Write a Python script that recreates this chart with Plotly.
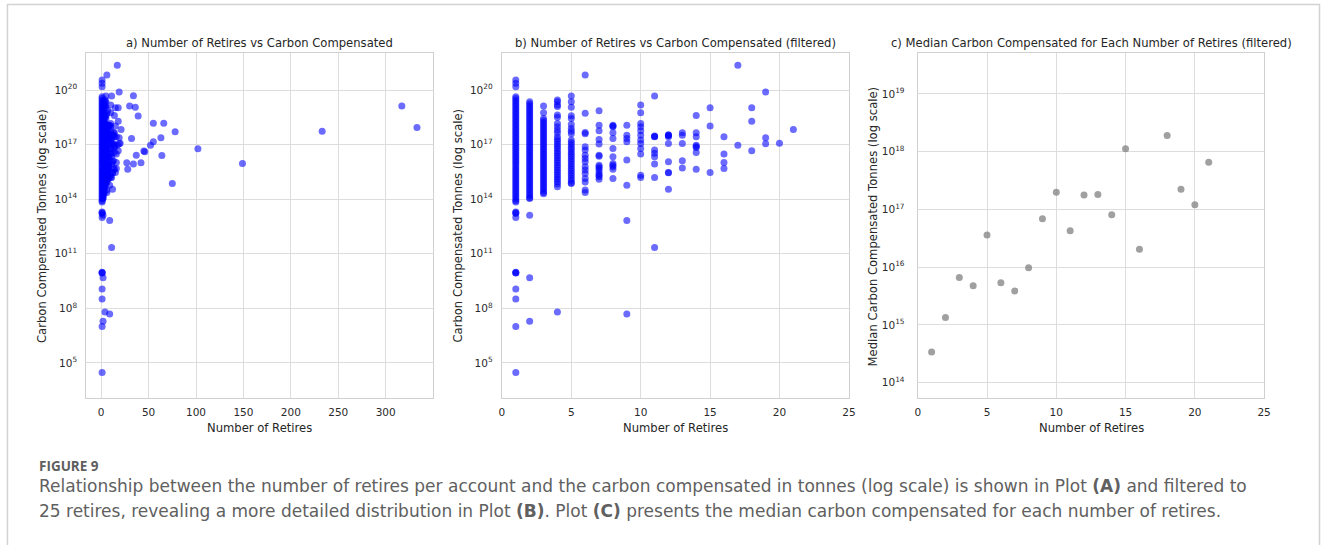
import plotly.graph_objects as go

# ---------------- data (log10 of carbon compensated tonnes) ----------------
col1 = [20.55, 20.37, 20.18, 19.63, 19.53, 19.42, 19.31, 19.20, 19.10, 18.98, 18.87, 18.76,
        18.65, 18.54, 18.43, 18.32, 18.21, 18.10, 17.99, 17.88, 17.77, 17.66, 17.55, 17.44,
        17.33, 17.22, 17.11, 17.00, 16.89, 16.78, 16.67, 16.56, 16.45, 16.34, 16.23, 16.12,
        16.01, 15.90, 15.79, 15.68, 15.57, 15.46, 15.35, 15.24, 15.13, 15.02, 14.91, 14.80,
        14.69, 14.58, 14.47, 14.36, 14.25, 14.14, 14.03, 13.92, 13.85, 13.30, 13.26, 13.22,
        13.00, 9.98, 9.96, 9.94, 9.07, 8.52, 7.00, 4.48]
col2 = [19.36, 19.25, 19.14, 19.03, 18.92, 18.81, 18.70, 18.59, 18.48, 18.37, 18.26, 18.15,
        18.04, 17.93, 17.82, 17.71, 17.60, 17.49, 17.38, 17.27, 17.16, 17.05, 16.94, 16.83,
        16.72, 16.61, 16.50, 16.39, 16.28, 16.17, 16.06, 15.95, 15.84, 15.73, 15.62, 15.51,
        15.40, 15.29, 15.18, 15.07, 14.96, 14.85, 14.74, 14.63, 14.52, 14.41, 14.30, 14.19,
        14.08, 14.04, 13.12, 9.69, 7.30]
col3 = [19.12, 18.75, 18.44, 18.33, 18.22, 18.11, 18.00, 17.89, 17.78, 17.67, 17.56, 17.45,
        17.34, 17.23, 17.12, 17.01, 16.90, 16.79, 16.68, 16.57, 16.46, 16.35, 16.24, 16.13,
        16.02, 15.91, 15.80, 15.69, 15.58, 15.47, 15.36, 15.25, 15.14, 15.03, 14.92, 14.81,
        14.70, 14.59, 14.48, 14.37, 14.30]
col4 = [19.45, 19.35, 19.17, 19.10, 18.62, 18.50, 18.16, 17.98, 17.80, 17.65, 17.43, 17.30,
        17.17, 17.04, 16.91, 16.78, 16.65, 16.52, 16.39, 16.26, 16.13, 16.00, 15.87, 15.74,
        15.61, 15.48, 15.35, 15.22, 15.09, 14.96, 14.83, 14.68, 7.80]
col5 = [19.67, 19.36, 19.05, 18.59, 18.44, 18.11, 17.88, 17.74, 17.60, 17.25, 17.12, 16.99,
        16.86, 16.73, 16.60, 16.47, 16.34, 16.21, 16.08, 15.95, 15.82, 15.69, 15.56, 15.43,
        15.30, 15.17, 15.04, 14.91, 14.86]
col6 = [20.83, 18.72, 17.67, 17.60, 16.88, 16.70, 16.42, 16.24, 16.06, 15.78, 15.60, 15.41,
        15.14, 14.95, 14.50, 14.37]
col7 = [18.86, 18.07, 17.76, 17.28, 17.03, 16.42, 16.36, 15.87, 15.78, 15.69, 15.56, 15.41,
        15.32, 15.23, 15.10]
col8 = [18.07, 18.02, 17.98, 17.65, 17.34, 16.79, 16.33, 15.96, 15.87, 15.78, 15.65, 15.14]
col9 = [18.07, 17.52, 17.34, 17.16, 16.15, 14.77, 12.83, 7.69]
col10 = [19.17, 18.75, 18.16, 17.98, 17.76, 17.52, 17.25, 17.06, 16.79, 16.48, 15.32, 15.19]
col11 = [19.67, 17.47, 17.45, 17.43, 16.70, 16.52, 16.33, 15.93, 15.19, 11.34]
col12 = [17.54, 17.52, 17.50, 17.43, 17.06, 16.06, 15.47, 15.45, 14.55]
col13 = [17.65, 17.52, 17.06, 16.11, 15.72]
col14 = [18.60, 17.65, 17.43, 16.97, 16.90, 16.84, 16.57, 15.65]
col15 = [19.03, 18.02, 15.47]
col16 = [17.43, 16.48, 16.02, 15.69]
col17 = [21.36, 16.97]
col18 = [19.03, 18.29, 16.66]
col19 = [19.89, 17.38, 17.05]
col20 = [17.08]
col21 = [17.83]

# accounts with more than 25 retires (only in plot a)
extra_retires = [30, 36, 34, 39, 55, 66, 78, 32, 55, 52, 63, 46, 45, 37, 64, 102, 27, 34,
                 42, 28, 149, 75, 233, 317, 333]
extra_log_carbon = [19.12, 19.05, 19.69, 18.57, 18.17, 18.17, 17.71, 17.34, 17.16, 16.97,
                    17.38, 16.61, 16.65, 16.42, 16.40, 16.77, 16.00, 15.93, 16.00, 15.65,
                    15.96, 14.86, 17.74, 19.12, 17.94]

# medians (plot c)
median_retires = [1, 2, 3, 4, 5, 6, 7, 8, 9, 10, 11, 12, 13, 14, 15, 16, 18, 19, 20, 21]
median_log_carbon = [14.53, 15.13, 15.82, 15.68, 16.56, 15.73, 15.59, 15.99, 16.84, 17.30,
                     16.63, 17.25, 17.26, 16.91, 18.05, 16.31, 18.28, 17.35, 17.08, 17.82]

log_ticks = [5, 8, 11, 14, 17, 20]
log_ticks_c = [14, 15, 16, 17, 18, 19]
xticks_a = [0, 50, 100, 150, 200, 250, 300]
xticks_bc = [0, 5, 10, 15, 20, 25]

# ---------------- build ----------------
columns = [col1, col2, col3, col4, col5, col6, col7, col8, col9, col10, col11, col12,
           col13, col14, col15, col16, col17, col18, col19, col20, col21]
fx, fy = [], []
for i, col in enumerate(columns, start=1):
    for v in col:
        fx.append(i)
        fy.append(10.0 ** v)
ax_x = fx + extra_retires
ax_y = fy + [10.0 ** v for v in extra_log_carbon]

W, H = 1328, 545
def PX(x): return x / W
def PY(y): return 1 - y / H

blue = dict(color="#0000ff", opacity=0.58, size=7, line=dict(width=0))
fig = go.Figure()
fig.add_trace(go.Scatter(x=ax_x, y=ax_y, mode="markers", marker=blue, xaxis="x", yaxis="y", showlegend=False))
fig.add_trace(go.Scatter(x=fx, y=fy, mode="markers", marker=blue, xaxis="x2", yaxis="y2", showlegend=False))
fig.add_trace(go.Scatter(x=median_retires, y=[10.0 ** v for v in median_log_carbon], mode="markers",
                         marker=dict(color="#808080", opacity=0.75, size=7, line=dict(width=0)),
                         xaxis="x3", yaxis="y3", showlegend=False))

tickfont = dict(family="DejaVu Sans", size=10.5, color="#2a2a2a")
common = dict(showgrid=True, gridcolor="#dddddd", gridwidth=1, showline=True, linecolor="#d0d0d0",
              linewidth=1.3, mirror=True, zeroline=False, ticks="", tickfont=tickfont)
ydom = [PY(398.3), PY(52.7)]

def sup(n):
    return "10<sup>%d</sup>" % n

fig.update_layout(
    width=W, height=H, margin=dict(l=0, r=0, t=0, b=0),
    paper_bgcolor="white", plot_bgcolor="white",
    xaxis=dict(domain=[PX(84), PX(433)], range=[-15.6, 349.6], tickvals=xticks_a,
               anchor="y", ticklabelstandoff=4, **common),
    yaxis=dict(domain=ydom, type="log", range=[3.06, 22.05], tickvals=[10.0 ** t for t in log_ticks],
               ticktext=[sup(t) for t in log_ticks], anchor="x", ticklabelstandoff=6, **common),
    xaxis2=dict(domain=[PX(502.7), PX(852.3)], range=[0, 25], tickvals=xticks_bc,
                anchor="y2", ticklabelstandoff=4, **common),
    yaxis2=dict(domain=ydom, type="log", range=[3.06, 22.05], tickvals=[10.0 ** t for t in log_ticks],
                ticktext=[sup(t) for t in log_ticks], anchor="x2", ticklabelstandoff=6, **common),
    xaxis3=dict(domain=[PX(921.7), PX(1270.7)], range=[0, 25], tickvals=xticks_bc,
                anchor="y3", ticklabelstandoff=4, **common),
    yaxis3=dict(domain=ydom, type="log", range=[13.73, 19.715], tickvals=[10.0 ** t for t in log_ticks_c],
                ticktext=[sup(t) for t in log_ticks_c], anchor="x3", ticklabelstandoff=10, **common),
)

lab = dict(family="DejaVu Sans", size=11.6, color="#262626")
ann = []
titles = ["a) Number of Retires vs Carbon Compensated",
          "b) Number of Retires vs Carbon Compensated (filtered)",
          "c) Median Carbon Compensated for Each Number of Retires (filtered)"]
centers = [258.5, 677.5, 1096.5]
ylab_x = [39.3, 458, 877]
ylabs = ["Carbon Compensated Tonnes (log scale)", "Carbon Compensated Tonnes (log scale)",
         "Median Carbon Compensated Tonnes (log scale)"]
for t, cx, yx, yl in zip(titles, centers, ylab_x, ylabs):
    ann.append(dict(text=t, x=PX(cx), y=PY(42.7), xref="paper", yref="paper", showarrow=False,
                    xanchor="center", yanchor="middle", font=lab))
    ann.append(dict(text="Number of Retires", x=PX(cx), y=PY(427.7), xref="paper", yref="paper",
                    showarrow=False, xanchor="center", yanchor="middle", font=lab))
    ann.append(dict(text=yl, x=PX(yx), y=PY(226), xref="paper", yref="paper", showarrow=False,
                    xanchor="center", yanchor="middle", textangle=-90, font=lab))

capfont = dict(family="DejaVu Sans", size=17, color="#606060")
ann.append(dict(text="<b>FIGURE 9</b>", x=PX(35), y=PY(466), xref="paper", yref="paper",
                showarrow=False, xanchor="left", yanchor="middle", borderpad=0,
                font=dict(family="Open Sans", size=13.5, color="#5e5e5e")))
ann.append(dict(text="Relationship between the number of retires per account and the carbon compensated in tonnes (log scale) is shown in Plot <b>(A)</b> and filtered to",
                x=PX(35), y=PY(485.5), xref="paper", yref="paper", showarrow=False, borderpad=0,
                xanchor="left", yanchor="middle", font=capfont))
ann.append(dict(text="25 retires, revealing a more detailed distribution in Plot <b>(B)</b>. Plot <b>(C)</b> presents the median carbon compensated for each number of retires.",
                x=PX(35), y=PY(511), xref="paper", yref="paper", showarrow=False, borderpad=0,
                xanchor="left", yanchor="middle", font=capfont))
fig.update_layout(annotations=ann)

fig.add_shape(type="rect", xref="paper", yref="paper", x0=PX(4.5), x1=PX(1326.5), y0=-0.2, y1=PY(4.5),
              line=dict(color="#d2d2d2", width=1.5), fillcolor="rgba(0,0,0,0)", layer="below")

fig.write_html("out.html")
